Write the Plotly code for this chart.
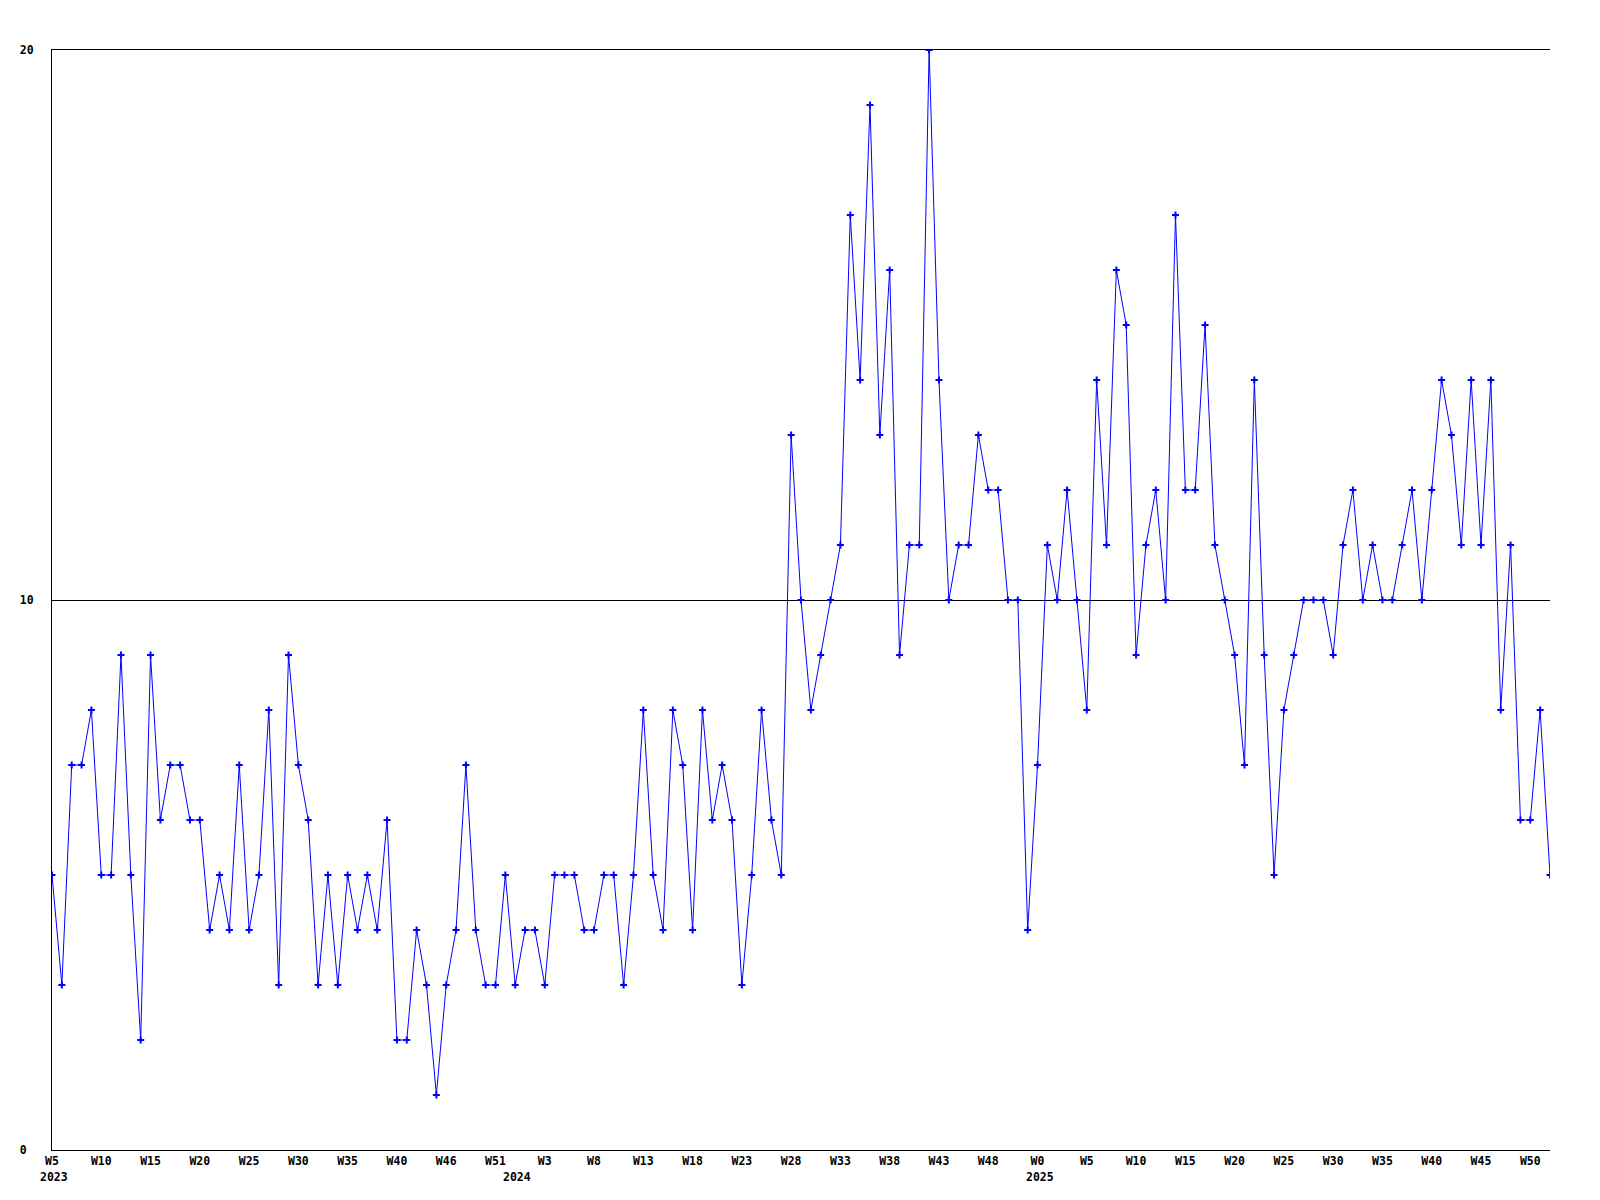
import plotly.graph_objects as go

# Weekly counts, 2023 W5 .. 2025 W52 (153 points)
values = [
    5, 3, 7, 7, 8, 5, 5, 9, 5, 2, 9, 6, 7, 7, 6, 6, 4, 5, 4, 7,
    4, 5, 8, 3, 9, 7, 6, 3, 5, 3, 5, 4, 5, 4, 6, 2, 2, 4,
    3, 1, 3, 4, 7, 4, 3, 3, 5, 3, 4, 4, 3, 5, 5, 5, 4, 4, 5, 5,
    3, 5, 8, 5, 4, 8, 7, 4, 8, 6, 7, 6, 3, 5, 8, 6, 5,
    13, 10, 8, 9, 10, 11, 17, 14, 19, 13, 16, 9, 11, 11, 20, 14, 10,
    11, 11, 13, 12, 12, 10, 10, 4, 7, 11,
    10, 12, 10, 8, 14, 11, 16, 15, 9, 11, 12, 10, 17, 12, 12, 15, 11,
    10, 9, 7, 14, 9, 5, 8, 9,
    10, 10, 10, 9, 11, 12, 10, 11, 10, 10, 11, 12, 10, 12, 14, 13, 11,
    14, 11, 14, 8, 11, 6, 6, 8, 5,
]

# One week label every fifth point
week_labels = [
    "W5", "W10", "W15", "W20", "W25", "W30", "W35", "W40", "W46", "W51",
    "W3", "W8", "W13", "W18", "W23", "W28", "W33", "W38", "W43", "W48",
    "W0", "W5", "W10", "W15", "W20", "W25", "W30", "W35", "W40", "W45", "W50",
]
label_step = 5

# Year labels and the index of each year's first point
year_labels = ["2023", "2024", "2025"]
year_first_point = [0, 47, 100]

y_tick_vals = [0, 10, 20]
y_tick_text = ["0\u00a0", "10", "20"]

FONT = "DejaVu Sans Mono"
BLUE = "#0000ff"

x = list(range(len(values)))
tick_idx = [i * label_step for i in range(len(week_labels))]

fig = go.Figure()
fig.add_trace(go.Scatter(
    x=x, y=values, mode="lines+markers",
    line=dict(color=BLUE, width=1),
    marker=dict(symbol="cross-thin", size=5, line=dict(color=BLUE, width=2), color=BLUE),
    showlegend=False, hoverinfo="x+y",
))

for yl, xi in zip(year_labels, year_first_point):
    fig.add_annotation(
        x=xi, y=0, xref="x", yref="paper", text=yl, showarrow=False,
        xanchor="center", yanchor="top", yshift=-18, xshift=2,
        font=dict(family=FONT, size=11.5, color="black", weight="bold"),
    )

fig.update_layout(
    width=1584, height=1184,
    margin=dict(l=42, r=42, t=42, b=42, pad=0),
    paper_bgcolor="white", plot_bgcolor="white",
    font=dict(family=FONT, size=11.5, color="black", weight="bold"),
)
fig.update_xaxes(
    range=[0, len(values) - 1], tickmode="array", tickvals=tick_idx, ticktext=week_labels,
    showgrid=False, zeroline=False, showline=True, mirror=True,
    linecolor="black", linewidth=1,
    ticks="", ticklabelstandoff=0,
    tickfont=dict(family=FONT, size=11.5, color="black", weight="bold"),
)
fig.update_yaxes(
    range=[0, 20], tickmode="array", tickvals=y_tick_vals, ticktext=y_tick_text,
    showgrid=True, gridcolor="black", gridwidth=1, zeroline=False,
    showline=True, linecolor="black", linewidth=1,
    ticks="", ticklabelstandoff=15,
    tickfont=dict(family=FONT, size=11.5, color="black", weight="bold"),
)

fig.write_html("out.html")
